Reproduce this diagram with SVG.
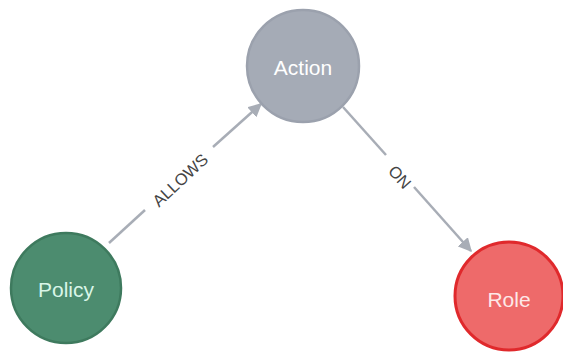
<svg xmlns="http://www.w3.org/2000/svg" width="563" height="356" viewBox="0 0 563 356">
<defs>
<style>
.node-label{font-family:"Liberation Sans",Arial,sans-serif;font-size:21px;text-anchor:middle;dominant-baseline:central}
.edge{stroke:#a8adb6;stroke-width:2.5;fill:none}
.edge-label{font-family:"Liberation Sans",Arial,sans-serif;font-size:16.5px;fill:#444;text-anchor:middle;dominant-baseline:central}
</style>
<marker id="arrow" viewBox="0 0 10 10" refX="9" refY="5" markerWidth="5.5" markerHeight="5.5" orient="auto" markerUnits="strokeWidth">
<path d="M0,0 L10,5 L0,10 z" fill="#a8adb6"/>
</marker>
</defs>
<g id="connectors">
<g id="edge-allows">
<path class="edge" d="M109,243 L145,210"/>
<path class="edge" d="M213,147 L261,104" marker-end="url(#arrow)"/>
<text class="edge-label" transform="translate(180,180) rotate(-43)">ALLOWS</text>
</g>
<g id="edge-on">
<path class="edge" d="M343,107 L386,155"/>
<path class="edge" d="M414,187 L471,251" marker-end="url(#arrow)"/>
<text class="edge-label" transform="translate(400,177) rotate(48)">ON</text>
</g>
</g>
<g id="node-action">
<circle cx="303" cy="66" r="56" fill="#a5abb6" stroke="#9ba1ad" stroke-width="2.5"/>
<text class="node-label" x="303" y="67" fill="#ffffff">Action</text>
</g>
<g id="node-policy">
<circle cx="66" cy="288" r="55" fill="#4c8c6f" stroke="#3e7a5e" stroke-width="2.5"/>
<text class="node-label" x="66" y="289" fill="#d9f6e8">Policy</text>
</g>
<g id="node-role">
<circle cx="509" cy="296" r="54" fill="#ee6a6a" stroke="#e0292c" stroke-width="3"/>
<text class="node-label" x="509" y="299" fill="#fde8e8">Role</text>
</g>
</svg>
